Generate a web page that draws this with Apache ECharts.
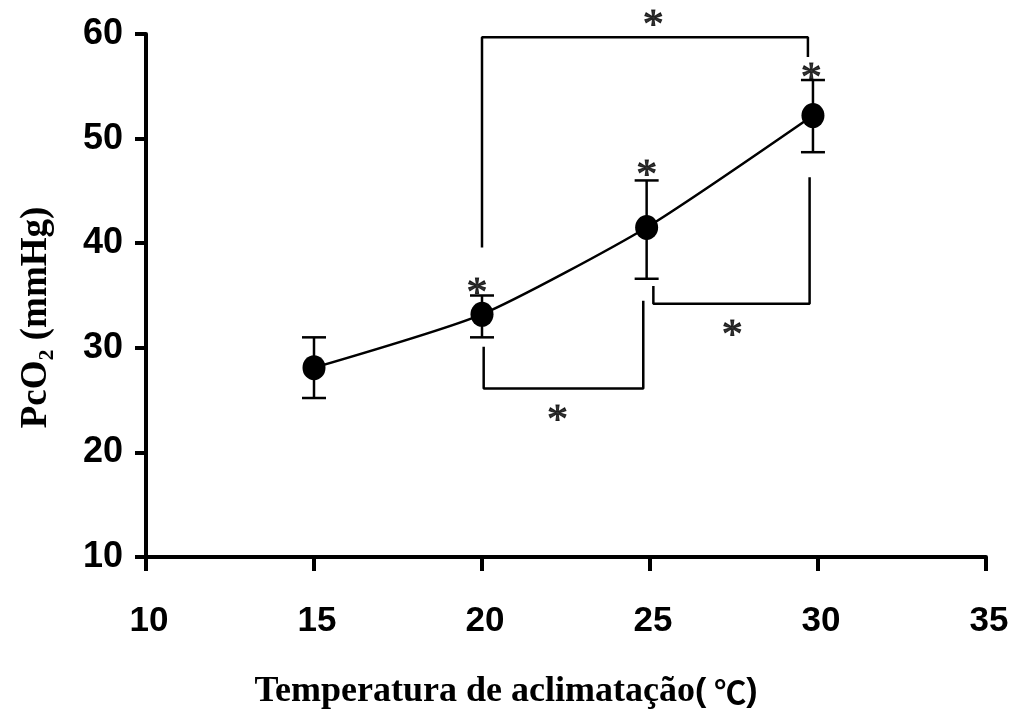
<!DOCTYPE html>
<html>
<head>
<meta charset="utf-8">
<style>
    html, body { margin: 0; padding: 0; background: #fff; }
    #main { width: 1015px; height: 715px; }
</style>
<script src="https://cdn.jsdelivr.net/npm/echarts@6/dist/echarts.min.js"></script>
</head>
<body>
<div id="main"></div>
<script>
    // 数据：温度、PcO2 均值及误差线
    var temps = [15, 20, 24.9, 29.85];
    var pco2 = [28.1, 33.2, 41.5, 52.2];
    var errLow = [25.2, 31.0, 36.6, 48.7];
    var errHigh = [31.0, 35.0, 46.0, 55.6];
    var xTicks = [10, 15, 20, 25, 30, 35];
    var yTicks = [10, 20, 30, 40, 50, 60];
    // 显著性括号与星号
    var bracket20vs30 = [[20.0, 39.6], [20.0, 59.7], [29.7, 59.7], [29.7, 57.8]];
    var bracket20vs25 = [[20.05, 30.1], [20.05, 26.1], [24.8, 26.1], [24.8, 34.5]];
    var bracket25vs30 = [[25.1, 35.9], [25.1, 34.2], [29.75, 34.2], [29.75, 46.3]];
    var stars = [[25.1, 61.6], [22.25, 23.9], [27.45, 32.0], [19.85, 36.0], [24.9, 47.3], [29.8, 56.6]];

    var myChart = echarts.init(document.getElementById('main'));

    var meanData = temps.map(function (t, i) { return [t, pco2[i]]; });
    var errData = temps.map(function (t, i) { return [t, errLow[i], errHigh[i]]; });

    function bracketSeries(data) {
        return {
            type: 'line',
            data: data,
            symbol: 'none',
            silent: true,
            z: 1,
            lineStyle: { color: '#000', width: 2.5 }
        };
    }

    var serif = 'Liberation Serif, Times New Roman, serif';
    var sans = 'Liberation Sans, Arial, sans-serif';

    var option = {
        animation: false,
        grid: { left: 146, right: 29, top: 34, bottom: 157 },
        xAxis: {
            type: 'value',
            min: xTicks[0],
            max: xTicks[xTicks.length - 1],
            interval: 5,
            splitLine: { show: false },
            axisLine: { lineStyle: { color: '#000', width: 4 } },
            axisTick: { length: 14, lineStyle: { color: '#000', width: 4 } },
            axisLabel: { color: '#000', fontFamily: sans, fontWeight: 'bold', fontSize: 35, margin: 47, padding: [0, 0, 0, 6] },
            name: '{t|Temperatura de aclimatação}{p|(}{c|℃}{p|)}',
            nameLocation: 'middle',
            nameGap: 117,
            nameTextStyle: {
                padding: [0, 120, 0, 0],
                rich: {
                    t: { fontFamily: serif, fontWeight: 'bold', fontSize: 36, color: '#000' },
                    p: { fontFamily: sans, fontWeight: 'bold', fontSize: 34, color: '#000' },
                    c: { fontFamily: 'Noto Sans CJK SC', fontWeight: 'bold', fontSize: 32, color: '#000', padding: [0, 0, 0, 8] }
                }
            }
        },
        yAxis: {
            type: 'value',
            min: yTicks[0],
            max: yTicks[yTicks.length - 1],
            interval: 10,
            splitLine: { show: false },
            axisLine: { lineStyle: { color: '#000', width: 4 } },
            axisTick: { length: 11, lineStyle: { color: '#000', width: 4 } },
            axisLabel: { color: '#000', fontFamily: sans, fontWeight: 'bold', fontSize: 36, margin: 23 },
            name: '{t|PcO}{s|2}{t| (mmHg)}',
            nameLocation: 'middle',
            nameRotate: 90,
            nameGap: 88,
            nameTextStyle: {
                padding: [0, 44, 0, 0],
                rich: {
                    t: { fontFamily: serif, fontWeight: 'bold', fontSize: 37, lineHeight: 44, color: '#000' },
                    s: { fontFamily: serif, fontWeight: 'bold', fontSize: 22, lineHeight: 22, verticalAlign: 'bottom', color: '#000' }
                }
            }
        },
        series: [
            bracketSeries(bracket20vs30),
            bracketSeries(bracket20vs25),
            bracketSeries(bracket25vs30),
            {
                // 误差线
                type: 'custom',
                data: errData,
                z: 2,
                renderItem: function (params, api) {
                    var x = api.value(0);
                    var lo = api.coord([x, api.value(1)]);
                    var hi = api.coord([x, api.value(2)]);
                    var w = 12;
                    var st = { stroke: '#000', lineWidth: 2.5 };
                    return {
                        type: 'group',
                        children: [
                            { type: 'line', shape: { x1: hi[0], y1: hi[1], x2: lo[0], y2: lo[1] }, style: st },
                            { type: 'line', shape: { x1: hi[0] - w, y1: hi[1], x2: hi[0] + w, y2: hi[1] }, style: st },
                            { type: 'line', shape: { x1: lo[0] - w, y1: lo[1], x2: lo[0] + w, y2: lo[1] }, style: st }
                        ]
                    };
                }
            },
            {
                type: 'line',
                data: meanData,
                z: 3,
                smooth: 0.2,
                symbol: 'circle',
                symbolSize: [23, 25],
                itemStyle: { color: '#000' },
                lineStyle: { color: '#000', width: 2.5 }
            },
            {
                // 星号
                type: 'scatter',
                data: stars,
                symbolSize: 0,
                clip: false,
                z: 4,
                label: {
                    show: true,
                    position: 'inside',
                    formatter: '*',
                    offset: [0, 10],
                    color: '#000',
                    textBorderColor: '#000',
                    textBorderWidth: 1,
                    fontFamily: serif,
                    fontSize: 42
                }
            }
        ]
    };
    myChart.setOption(option);
</script>
</body>
</html>
